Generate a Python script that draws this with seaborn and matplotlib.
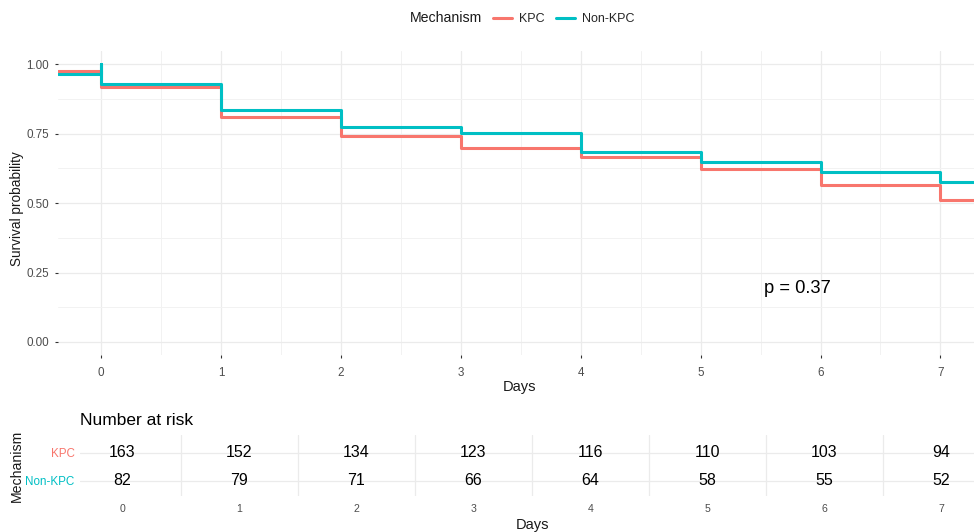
import numpy as np
import pandas as pd
import matplotlib
matplotlib.use("Agg")
import matplotlib.pyplot as plt
import seaborn as sns
from matplotlib.ticker import MultipleLocator, FixedLocator

# ---------------- data ----------------
groups = ["KPC", "Non-KPC"]
kpc_time = [-0.36, 0, 1, 2, 3, 4, 5, 6, 7, 7.3]
kpc_surv = [0.977, 0.917, 0.809, 0.742, 0.700, 0.665, 0.622, 0.566, 0.512, 0.512]
nonkpc_time = [-0.36, 0, 0, 1, 2, 3, 4, 5, 6, 7, 7.3]
nonkpc_surv = [0.965, 1.000, 0.929, 0.834, 0.774, 0.754, 0.683, 0.647, 0.612, 0.577, 0.577]
risk_times = [0, 1, 2, 3, 4, 5, 6, 7]
kpc_risk = [163, 152, 134, 123, 116, 110, 103, 94]
nonkpc_risk = [82, 79, 71, 66, 64, 58, 55, 52]
p_label = "p = 0.37"
colors = {"KPC": "#F8766D", "Non-KPC": "#00BFC4"}

df = pd.concat([
    pd.DataFrame({"time": kpc_time, "surv": kpc_surv, "Mechanism": "KPC"}),
    pd.DataFrame({"time": nonkpc_time, "surv": nonkpc_surv, "Mechanism": "Non-KPC"}),
], ignore_index=True)

# ---------------- style ----------------
sns.set_theme(style="white")
plt.rcParams["font.family"] = ["Liberation Sans", "DejaVu Sans"]

W, H = 974, 532
fig = plt.figure(figsize=(W / 100, H / 100), dpi=100)
XLIM = (-0.36, 7.28)
GRID = "#EBEBEB"
TICKC = "#4D4D4D"

# ---------------- survival curves ----------------
ax = fig.add_axes([58 / W, 1 - 355 / H, (W - 58) / W, (355 - 51) / H])
sns.lineplot(data=df, x="time", y="surv", hue="Mechanism", palette=colors,
             drawstyle="steps-post", estimator=None, sort=False, errorbar=None,
             linewidth=2.2, ax=ax)
ax.set_xlim(*XLIM)
ax.set_ylim(-0.047, 1.048)
ax.xaxis.set_major_locator(FixedLocator(risk_times))
ax.xaxis.set_minor_locator(MultipleLocator(0.5))
ax.yaxis.set_major_locator(FixedLocator([0, 0.25, 0.5, 0.75, 1.0]))
ax.yaxis.set_minor_locator(MultipleLocator(0.125))
ax.set_yticklabels(["0.00", "0.25", "0.50", "0.75", "1.00"])
ax.grid(which="major", color=GRID, linewidth=0.9)
ax.grid(which="minor", color="#F2F2F2", linewidth=0.7)
ax.set_axisbelow(True)
for s in ax.spines.values():
    s.set_visible(False)
ax.tick_params(which="major", length=2.2, width=0.8, color="#333333",
               labelsize=8.4, labelcolor=TICKC, pad=4.5, bottom=True, left=True)
ax.tick_params(axis="x", which="major", pad=6.5)
ax.tick_params(which="minor", length=0)
ax.set_xlabel("Days", fontsize=10.5, color="#1A1A1A")
ax.set_ylabel("Survival probability", fontsize=9.8, color="#1A1A1A")
ax.xaxis.set_label_coords(0.504, -0.082)
ax.yaxis.set_label_coords(-0.037, 0.48)
ax.text(5.53, 0.194, p_label, fontsize=13.2, ha="left", va="center", color="black")

sns.move_legend(ax, "upper left", bbox_to_anchor=(493 / W, 1 - 13 / H),
                bbox_transform=fig.transFigure, ncol=2, title=None, frameon=False,
                fontsize=9.0, handlelength=1.5, handletextpad=0.6,
                columnspacing=0.9, borderaxespad=0, borderpad=0)
fig.text(410 / W, 1 - 18 / H, "Mechanism", fontsize=10.2, ha="left", va="center",
         color="#1A1A1A")

# ---------------- risk table ----------------
ax2 = fig.add_axes([80 / W, 1 - 496 / H, (W - 80) / W, (496 - 435) / H])
ax2.set_xlim(*XLIM)
ax2.set_ylim(0.46, 2.64)
row_pos = {"KPC": 2, "Non-KPC": 1}
for g, vals in zip(groups, [kpc_risk, nonkpc_risk]):
    for t, v in zip(risk_times, vals):
        ax2.text(t, row_pos[g], str(v), fontsize=11.5, ha="center", va="center",
                 color="black")
ax2.xaxis.set_major_locator(FixedLocator(risk_times))
ax2.xaxis.set_minor_locator(FixedLocator([t + 0.5 for t in risk_times]))
ax2.set_yticks([row_pos[g] for g in groups])
ax2.set_yticklabels(groups)
for lbl, g in zip(ax2.get_yticklabels(), groups):
    lbl.set_color(colors[g])
ax2.grid(False)
ax2.grid(which="major", axis="y", color=GRID, linewidth=0.9)
ax2.grid(which="minor", axis="x", color=GRID, linewidth=0.9)
ax2.set_axisbelow(True)
for s in ax2.spines.values():
    s.set_visible(False)
ax2.tick_params(axis="x", which="major", length=0, labelsize=7.6,
                labelcolor=TICKC, pad=6)
ax2.tick_params(axis="y", which="major", length=0, labelsize=8.4, pad=4)
ax2.tick_params(which="minor", length=0)
ax2.set_title("Number at risk", loc="left", fontsize=12.5, pad=7, color="black")
ax2.set_xlabel("Days", fontsize=10.5, color="#1A1A1A")
ax2.set_ylabel("Mechanism", fontsize=10.2, color="#1A1A1A")
ax2.xaxis.set_label_coords(0.506, -0.36)
ax2.yaxis.set_label_coords(-0.0626, 0.5)

fig.savefig("out.png", dpi=100, facecolor="white")
